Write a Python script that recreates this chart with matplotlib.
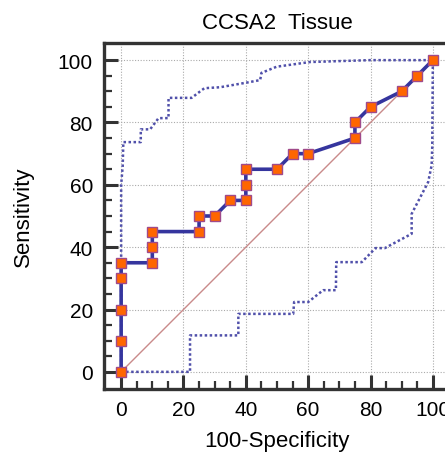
# ROC curve with confidence bands, CCSA2 tissue
import matplotlib
matplotlib.use('Agg')
import matplotlib.pyplot as plt
import numpy as np
from matplotlib.ticker import MultipleLocator, FixedLocator

plt.rcParams['font.family'] = ['Liberation Sans', 'DejaVu Sans']

# ROC points (100-specificity, sensitivity)
roc_x = [0, 0, 0, 0, 0, 10, 10, 10, 25, 25, 30, 35, 40, 40, 40, 50, 55, 60, 75, 75, 80, 90, 95, 100]
roc_y = [0, 10, 20, 30, 35, 35, 40, 45, 45, 50, 50, 55, 55, 60, 65, 65, 70, 70, 75, 80, 85, 90, 95, 100]

# upper confidence bound
upper_x = [0, 0, 0.5, 0.7, 6.3, 6.3, 9.3, 12, 15.2, 15.2, 22.6, 26.7, 31.7, 40.3, 44.6, 45,
           49.9, 54.2, 60.6, 79.8, 100]
upper_y = [0, 60, 66, 73.7, 73.7, 77.8, 77.8, 81.4, 81.4, 87.9, 87.9, 91, 91.3, 92.8, 93.6, 95.9,
           97.9, 98.5, 99.4, 100, 100]

# lower confidence bound
lower_x = [0, 22.1, 22.1, 37.6, 37.6, 55.2, 55.5, 60, 64.8, 68.9, 69, 77.2, 81.6, 84.6,
           93.2, 93.2, 98.5, 99.6, 99.8, 100]
lower_y = [0, 0, 11.7, 11.7, 18.6, 18.6, 22.4, 22.4, 26.2, 26.2, 35.2, 35.2, 39.7, 39.7,
           44.3, 50.7, 60.9, 66.2, 72, 100]

fig = plt.figure(figsize=(4.45, 4.56), dpi=100)
ax = fig.add_axes([104/445, 66/456, 346/445, 346/456])

# confidence bands
band = dict(color='#5050aa', lw=1.8, linestyle=(0, (1, 1)), zorder=2)
ax.plot(upper_x, upper_y, **band)
ax.plot(lower_x, lower_y, **band)

# reference diagonal
ax.plot([0, 100], [0, 100], color='#c98a8a', lw=1, zorder=2)

# ROC curve
ax.plot(roc_x, roc_y, color='#35359e', lw=2.6, marker='s', markersize=7.5,
        markerfacecolor='#ff6600', markeredgecolor='#a04a8a', markeredgewidth=1, zorder=3)

ax.set_xlim(-5.5, 105.5)
ax.set_ylim(-5.5, 105.5)

# ticks
ax.xaxis.set_major_locator(MultipleLocator(20))
ax.yaxis.set_major_locator(MultipleLocator(20))
ax.xaxis.set_minor_locator(FixedLocator(np.arange(0, 101, 5)))
ax.yaxis.set_minor_locator(FixedLocator(np.arange(0, 101, 5)))
ax.tick_params(which='major', direction='in', length=10, width=2.2, color='#333333',
               labelsize=15, pad=8)
ax.tick_params(which='minor', direction='in', length=6, width=1.6, color='#333333')
ax.tick_params(top=False, right=False, which='both')

for s in ax.spines.values():
    s.set_linewidth(2.4)
    s.set_color('#333333')

ax.grid(which='major', color='#aaaaaa', linestyle=(0, (1, 1.5)), lw=0.8)
ax.set_axisbelow(True)

# labels
ax.set_title("CCSA2  Tissue", fontsize=16, pad=11)
ax.set_xlabel("100-Specificity", fontsize=16, labelpad=8)
ax.set_ylabel("Sensitivity", fontsize=16, labelpad=17)

fig.savefig("out.png", dpi=100)
